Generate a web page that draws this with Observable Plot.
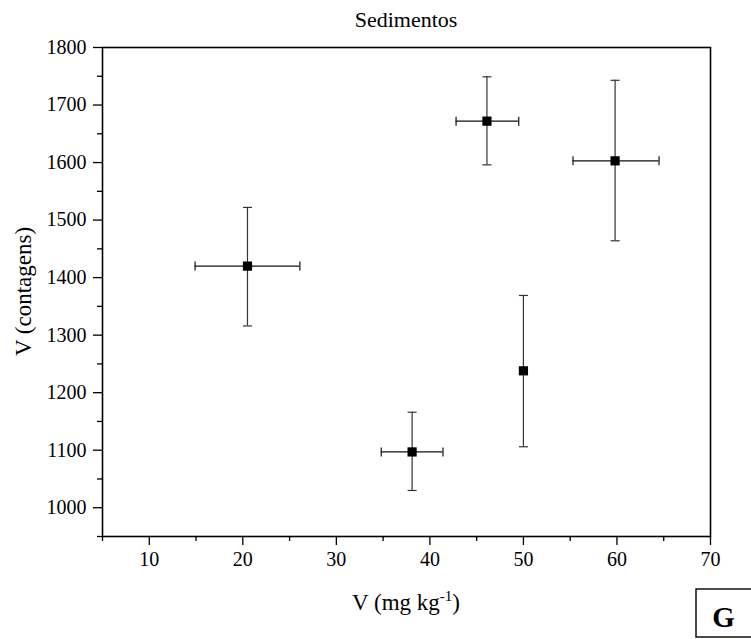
<!DOCTYPE html>
<html>
<head>
<meta charset="utf-8">
<script src="https://cdn.jsdelivr.net/npm/d3@7"></script>
<script src="https://cdn.jsdelivr.net/npm/@observablehq/plot@0.6"></script>
</head>
<body style="margin:0">
<div id="chart"></div>
<script>
// ---- data ----
const xValues = [20.5, 38.1, 46.1, 50.0, 59.8];          // V (mg kg-1)
const yValues = [1420, 1097, 1672, 1238, 1603];          // V (contagens)
const xLow    = [14.9, 34.8, 42.8, 50.0, 55.3];
const xHigh   = [26.1, 41.4, 49.5, 50.0, 64.5];
const yLow    = [1316, 1030, 1596, 1106, 1464];
const yHigh   = [1522, 1166, 1749, 1369, 1743];

const xMajorTicks = [10, 20, 30, 40, 50, 60, 70];
const xMinorTicks = [5, 15, 25, 35, 45, 55, 65];
const yMajorTicks = [1000, 1100, 1200, 1300, 1400, 1500, 1600, 1700, 1800];
const yMinorTicks = [950, 1050, 1150, 1250, 1350, 1450, 1550, 1650, 1750];

const titleText = "Sedimentos";
const yTitle = "V (contagens)";
const panelLetter = "G";

const data = xValues.map((x, i) => ({
  x, y: yValues[i], xLow: xLow[i], xHigh: xHigh[i], yLow: yLow[i], yHigh: yHigh[i]
}));
const hData = data.filter(d => d.xHigh > d.xLow);

const hCap = { draw(ctx, size) { const r = Math.sqrt(size / Math.PI); ctx.moveTo(-r, 0); ctx.lineTo(r, 0); } };
const vCap = { draw(ctx, size) { const r = Math.sqrt(size / Math.PI); ctx.moveTo(0, -r); ctx.lineTo(0, r); } };

const font = "Liberation Serif";
const plain = d => String(d);

const chart = Plot.plot({
  width: 751,
  height: 639,
  marginLeft: 102,
  marginRight: 41,
  marginTop: 47,
  marginBottom: 103,
  x: { domain: [5, 70] },
  y: { domain: [950, 1800] },
  marks: [
    Plot.axisX({ ticks: xMajorTicks, tickSize: 9, tickPadding: 6, fontSize: 20, fontFamily: font, tickFormat: plain, label: null, strokeWidth: 1.3, stroke: "#000", fill: "#000" }),
    Plot.axisX({ ticks: xMinorTicks, tickSize: 5, tickFormat: () => "", label: null, strokeWidth: 1.3, stroke: "#000" }),
    Plot.axisY({ ticks: yMajorTicks, tickSize: 9, tickPadding: 7, fontSize: 20, fontFamily: font, tickFormat: plain, label: null, strokeWidth: 1.3, stroke: "#000", fill: "#000" }),
    Plot.axisY({ ticks: yMinorTicks, tickSize: 5, tickFormat: () => "", label: null, strokeWidth: 1.3, stroke: "#000" }),
    Plot.frame({ stroke: "#000", strokeWidth: 1.6 }),
    // vertical error bars
    Plot.ruleX(data, { x: "x", y1: "yLow", y2: "yHigh", stroke: "#333", strokeWidth: 1.2 }),
    Plot.dot(data, { x: "x", y: "yLow", symbol: hCap, r: 4.5, stroke: "#333", strokeWidth: 1.2, fill: "none" }),
    Plot.dot(data, { x: "x", y: "yHigh", symbol: hCap, r: 4.5, stroke: "#333", strokeWidth: 1.2, fill: "none" }),
    // horizontal error bars
    Plot.ruleY(hData, { y: "y", x1: "xLow", x2: "xHigh", stroke: "#111", strokeWidth: 1.2 }),
    Plot.dot(hData, { x: "xLow", y: "y", symbol: vCap, r: 4.5, stroke: "#111", strokeWidth: 1.2, fill: "none" }),
    Plot.dot(hData, { x: "xHigh", y: "y", symbol: vCap, r: 4.5, stroke: "#111", strokeWidth: 1.2, fill: "none" }),
    // points
    Plot.dot(data, { x: "x", y: "y", symbol: "square", r: 5.2, fill: "#000", stroke: "none" })
  ]
});

document.getElementById("chart").appendChild(chart);

const svg = d3.select(chart);
const cx = (102 + 710) / 2;

svg.append("text")
  .attr("x", cx).attr("y", 27)
  .attr("text-anchor", "middle")
  .attr("font-family", font)
  .attr("font-size", 22)
  .attr("fill", "#000")
  .text(titleText);

svg.append("text")
  .attr("transform", `translate(31, ${(47 + 536) / 2}) rotate(-90)`)
  .attr("text-anchor", "middle")
  .attr("font-family", font)
  .attr("font-size", 23)
  .attr("fill", "#000")
  .text(yTitle);

const xt = svg.append("text")
  .attr("x", cx).attr("y", 610)
  .attr("text-anchor", "middle")
  .attr("font-family", font)
  .attr("font-size", 23)
  .attr("fill", "#000");
xt.append("tspan").text("V (mg kg");
xt.append("tspan").attr("font-size", 15).attr("dy", -9).text("-1");
xt.append("tspan").attr("dy", 9).text(")");

svg.append("rect")
  .attr("x", 696).attr("y", 589).attr("width", 70).attr("height", 48)
  .attr("fill", "none").attr("stroke", "#000").attr("stroke-width", 1.4);
svg.append("text")
  .attr("x", 723.5).attr("y", 627)
  .attr("text-anchor", "middle")
  .attr("font-family", font)
  .attr("font-size", 29).attr("font-weight", "bold")
  .attr("fill", "#000")
  .text(panelLetter);
</script>
</body>
</html>
